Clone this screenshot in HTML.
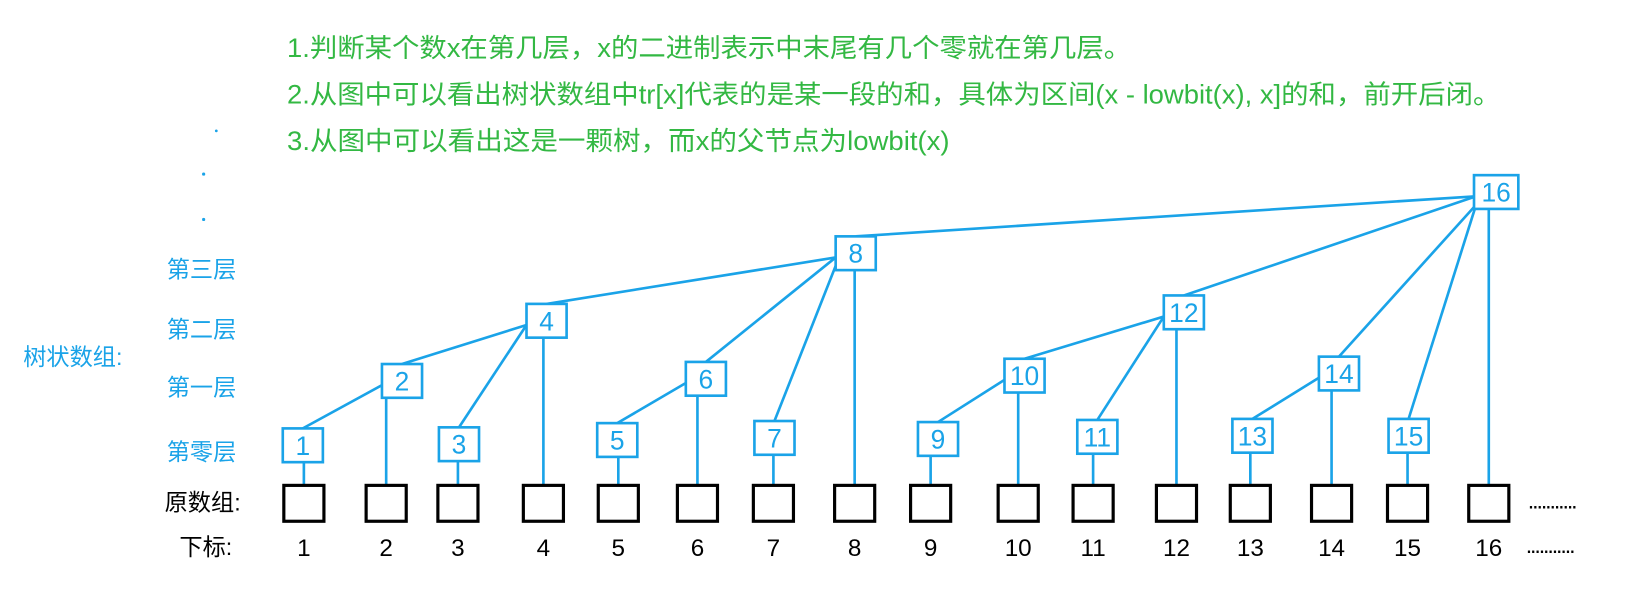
<!DOCTYPE html>
<html><head><meta charset="utf-8">
<style>
html,body{margin:0;padding:0;background:#fff;}
svg{display:block;}
text{font-family:"Liberation Sans","Noto Sans CJK SC",sans-serif;}
</style></head>
<body>
<svg id="diag" width="1646" height="612" viewBox="0 0 1560 580" preserveAspectRatio="none" xmlns="http://www.w3.org/2000/svg">
<g fill="#33b843" font-size="25">
<text x="272" y="54" textLength="800" lengthAdjust="spacingAndGlyphs">1.判断某个数x在第几层，x的二进制表示中末尾有几个零就在第几层。</text>
<text x="272" y="98" textLength="1150" lengthAdjust="spacingAndGlyphs">2.从图中可以看出树状数组中tr[x]代表的是某一段的和，具体为区间(x - lowbit(x), x]的和，前开后闭。</text>
<text x="272" y="142" textLength="628" lengthAdjust="spacingAndGlyphs">3.从图中可以看出这是一颗树，而x的父节点为lowbit(x)</text>
</g>
<g fill="#1aa3e8">
<circle cx="205" cy="124" r="1.3"/><circle cx="193" cy="165" r="1.5"/><circle cx="193" cy="208" r="1.5"/>
</g>
<g fill="#1aa3e8" font-size="22">
<text x="158" y="263">第三层</text>
<text x="158" y="320">第二层</text>
<text x="158" y="375">第一层</text>
<text x="158" y="436">第零层</text>
<text x="22" y="346">树状数组:</text>
</g>
<g fill="#000" font-size="22">
<text x="156" y="484">原数组:</text>
<text x="170" y="526">下标:</text>
</g>
<g id="links" stroke="#1aa3e8" stroke-width="2.5" fill="none"></g>
<g id="bottom"></g>
<g id="nodes"></g>
<g fill="#000">
<text x="1448" y="482" font-size="22" letter-spacing="-2">...........</text>
<text x="1446" y="524" font-size="22" letter-spacing="-2">...........</text>
</g>
</svg>
<script>
const ns="http://www.w3.org/2000/svg";
const indices=[1,2,3,4,5,6,7,8,9,10,11,12,13,14,15,16];
const arrX=[288,366,434,515,586,661,733,810,882,965,1036,1115,1185,1262,1334,1411];
const nodeX=[287,381,435,518,585,669,734,811,889,971,1040,1122,1187,1269,1335,1418];
const nodeY=[422,361,421,304,417,359,415,240,416,356,414,296,413,354,413,182];
const parents=[2,4,4,8,6,8,8,16,10,12,12,16,14,16,16,0];
const BW=38,BH=32,AW=38,AH=34,AY=460;
const links=document.getElementById('links'),bottom=document.getElementById('bottom'),nodes=document.getElementById('nodes');
function line(x1,y1,x2,y2){const l=document.createElementNS(ns,'line');l.setAttribute('x1',x1);l.setAttribute('y1',y1);l.setAttribute('x2',x2);l.setAttribute('y2',y2);links.appendChild(l);return l;}
indices.forEach((v,i)=>{
  const nx=nodeX[i],ny=nodeY[i],w=v>=10?(v==16?42:38):BW;
  const vl=line(arrX[i],ny+BH/2,arrX[i],AY);
  
  
  const p=parents[i];
  if(p){const j=p-1;
    const pl=line(nx,ny-BH/2,nodeX[j]-BW/2,nodeY[j]+(nodeY[i]-nodeY[j]>150?BH/2-4:4));
    
    }
  const r=document.createElementNS(ns,'rect');
  r.setAttribute('x',nx-w/2);r.setAttribute('y',ny-BH/2);r.setAttribute('width',w);r.setAttribute('height',BH);
  r.setAttribute('fill','#fff');r.setAttribute('stroke','#1aa3e8');r.setAttribute('stroke-width','2.5');
  
  
  nodes.appendChild(r);
  const t=document.createElementNS(ns,'text');
  t.setAttribute('x',nx);t.setAttribute('y',ny+9);t.setAttribute('text-anchor','middle');t.setAttribute('font-size','25');t.setAttribute('fill','#1aa3e8');
  t.textContent=v;
  
  
  nodes.appendChild(t);
  const a=document.createElementNS(ns,'rect');
  a.setAttribute('x',arrX[i]-AW/2);a.setAttribute('y',AY);a.setAttribute('width',AW);a.setAttribute('height',AH);
  a.setAttribute('fill','#fff');a.setAttribute('stroke','#000');a.setAttribute('stroke-width','3');
  
  
  bottom.appendChild(a);
  const it=document.createElementNS(ns,'text');
  it.setAttribute('x',arrX[i]);it.setAttribute('y',527);it.setAttribute('text-anchor','middle');it.setAttribute('font-size','23');it.setAttribute('fill','#000');
  it.textContent=v;
  
  
  bottom.appendChild(it);
});
</script>
</body></html>
